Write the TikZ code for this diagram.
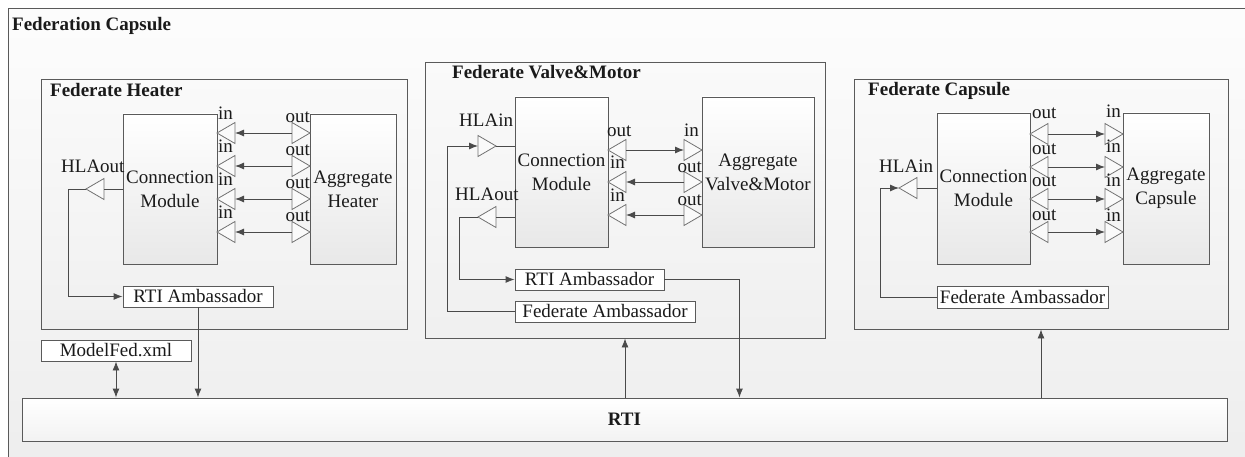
\documentclass[tikz,border=0pt]{standalone}
\usepackage{fontspec}
\setmainfont{LiberationSerif}[Extension=.ttf, UprightFont=*-Regular, BoldFont=*-Bold, ItalicFont=*-Italic, BoldItalicFont=*-BoldItalic]
\usetikzlibrary{arrows.meta,shadows}
\definecolor{edgecol}{HTML}{4A4A4A}
\definecolor{boxline}{HTML}{5A5A5A}
\definecolor{txt}{HTML}{1A1A1A}
\tikzset{
  txtstyle/.style={font=\fontsize{19}{24}\selectfont, text=txt},
  fedbox/.style={draw=boxline, line width=0.9pt, top color=black!2, bottom color=black!6, inner sep=0pt,
    drop shadow={shadow xshift=1pt, shadow yshift=-1pt, opacity=0.18}},
  modbox/.style={txtstyle, draw=boxline, line width=0.9pt, top color=white, bottom color=black!9,
    inner sep=1pt, align=center, minimum height=150pt,
    drop shadow={shadow xshift=1pt, shadow yshift=-1pt, opacity=0.18}},
  ambbox/.style={txtstyle, draw=boxline, line width=0.9pt, fill=white, inner sep=0pt, minimum height=21pt,
    drop shadow={shadow xshift=1pt, shadow yshift=-1pt, opacity=0.18}},
  rtibox/.style={draw=boxline, line width=0.9pt, top color=white, bottom color=black!5, inner sep=0pt,
    font=\fontsize{19}{24}\selectfont\bfseries, text=txt,
    drop shadow={shadow xshift=1pt, shadow yshift=-1pt, opacity=0.18}},
  portshape/.style={draw=black!55, line width=0.8pt, fill=black!2},
  conn/.style={draw=edgecol, line width=0.9pt},
  arr/.style={-{Latex[length=9pt,width=7pt]}},
  barr/.style={{Latex[length=9pt,width=7pt]}-{Latex[length=9pt,width=7pt]}},
  lbl/.style={txtstyle, inner sep=0pt},
  fedtitle/.style={font=\fontsize{19}{24}\selectfont\bfseries, text=txt, inner sep=0pt},
}
% port triangle: #1 name, #2 tip x, #3 y, #4 direction (1 = points right, -1 = points left)
\newcommand\porttri[4]{%
  \coordinate (#1-tip) at (#2,#3);
  \coordinate (#1-base) at ({#2-(#4)*18},#3);
  \draw[portshape] (#1-tip) -- ({#2-(#4)*18},{#3-10.5}) -- ({#2-(#4)*18},{#3+10.5}) -- cycle;
}
\begin{document}
\begin{tikzpicture}[x=1pt,y=-1pt]
\useasboundingbox (0,0) rectangle (1245,457);
\clip (0,0) rectangle (1245,457);
\fill[white] (0,0) rectangle (1245,457);
% Federation Capsule frame
\shade[top color=black!1, bottom color=black!7] (8,9) rectangle (1262,472);
\draw[boxline, line width=1pt] (8,9) rectangle (1262,472);
\node[fedtitle, anchor=base west] (fedcap) at (12,31) {Federation Capsule};

% ---------- Federate boxes ----------
\node[fedbox, minimum width=366pt, minimum height=250pt] (hfed) at (224,204) {};
\node[fedtitle, anchor=base west] (hfedt) at (50,97) {Federate Heater};
\node[fedbox, minimum width=400pt, minimum height=276pt] (vfed) at (625,200) {};
\node[fedtitle, anchor=base west] (vfedt) at (452,79) {Federate Valve\&Motor};
\node[fedbox, minimum width=374pt, minimum height=250pt] (cfed) at (1041,204) {};
\node[fedtitle, anchor=base west] (cfedt) at (868,96) {Federate Capsule};

% ---------- RTI + ModelFed ----------
\node[rtibox, minimum width=1205pt, minimum height=43pt] (rti) at (624.5,419.5) {RTI};
\node[ambbox, minimum width=150pt] (mf) at (116,350.5) {ModelFed.xml};

% ---------- Heater ----------
\node[modbox, minimum width=94pt] (hcm) at (170,189) {Connection\\Module};
\node[modbox, minimum width=86pt] (hagg) at (353,189) {Aggregate\\Heater};
\node[ambbox, minimum width=150pt] (hrti) at (198,296.5) {RTI Ambassador};
\foreach \yy [count=\i] in {133,166,199,232}{
  \porttri{hi\i}{217}{\yy}{-1}
  \porttri{ho\i}{310}{\yy}{1}
  \draw[conn,arr] (ho\i-base) -- (hi\i-base);
  \node[lbl, anchor=base west] (hil\i) at (218,\yy-13.5) {in};
  \node[lbl, anchor=base east] (hol\i) at (310,\yy-10) {out};
}
\porttri{hhout}{86}{189}{-1}
\node[lbl, anchor=base west] (hhoutl) at (61,173) {HLAout};
\draw[conn] (hcm.west |- hhout-base) -- (hhout-base);
\draw[conn,arr] (hhout-tip) -- ++(-18,0) |- (hrti.west);
\draw[conn,arr] (hrti.south) -- (hrti.south |- rti.north);
\draw[conn,barr] (mf.south) -- (mf.south |- rti.north);

% ---------- Valve & Motor ----------
\node[modbox, minimum width=93pt] (vcm) at (561.5,172) {Connection\\Module};
\node[modbox, minimum width=112pt] (vagg) at (758,172) {Aggregate\\Valve\&Motor};
\node[ambbox, minimum width=149pt] (vrti) at (589.5,279.5) {RTI Ambassador};
\node[ambbox, minimum width=180pt] (vfa) at (605,311.5) {Federate Ambassador};
\porttri{vl1}{608}{150}{-1}
\porttri{vr1}{702}{150}{1}
\draw[conn,arr] (vl1-base) -- (vr1-base);
\node[lbl, anchor=base west] (vll1) at (607,137) {out};
\node[lbl, anchor=base west] (vrl1) at (684,137) {in};
\foreach \yy [count=\i from 2] in {182,215}{
  \porttri{vl\i}{608}{\yy}{-1}
  \porttri{vr\i}{702}{\yy}{1}
  \draw[conn,arr] (vr\i-base) -- (vl\i-base);
  \node[lbl, anchor=base west] (vll\i) at (610,\yy-13) {in};
  \node[lbl, anchor=base east] (vrl\i) at (702,\yy-9.5) {out};
}
\porttri{vhin}{496}{146}{1}
\porttri{vhout}{478}{217}{-1}
\node[lbl, anchor=base west] (vhinl) at (459,127) {HLAin};
\node[lbl, anchor=base west] (vhoutl) at (455,201) {HLAout};
\draw[conn] (vhin-tip) -- (vhin-tip -| vcm.west);
\draw[conn] (vhout-base) -- (vhout-base -| vcm.west);
\draw[conn,arr] (vhout-tip) -- ++(-19,0) |- (vrti.west);
\draw[conn,arr] (vfa.west) -- ++(-67,0) |- (vhin-base);
\draw[conn,arr] (vrti.east) -- ++(75,0) coordinate (vturn) -- (vturn |- rti.north);
\draw[conn,arr] (vfed.south |- rti.north) -- (vfed.south);

% ---------- Capsule ----------
\node[modbox, minimum width=93pt, minimum height=151pt] (ccm) at (983.5,188.5) {Connection\\Module};
\node[modbox, minimum width=86pt, minimum height=151pt] (cagg) at (1166,188.5) {Aggregate\\Capsule};
\node[ambbox, minimum width=171pt, minimum height=22pt] (cfa) at (1022.5,297) {Federate Ambassador};
\foreach \yy/\lo/\li [count=\i] in {134/15/16, 167/12/14, 199/12/12, 232/11/10}{
  \porttri{cl\i}{1030}{\yy}{-1}
  \porttri{cr\i}{1123}{\yy}{1}
  \draw[conn,arr] (cl\i-base) -- (cr\i-base);
  \node[lbl, anchor=base west] (cll\i) at (1032,\yy-\lo) {out};
  \node[lbl, anchor=base west] (crl\i) at (1106,\yy-\li) {in};
}
\porttri{chin}{899}{188}{-1}
\node[lbl, anchor=base west] (chinl) at (879,173) {HLAin};
\draw[conn] (chin-base) -- (chin-base -| ccm.west);
\draw[conn,arr] (cfa.west) -- ++(-56,0) |- (chin-tip);
\draw[conn,arr] (cfed.south |- rti.north) -- (cfed.south);
\end{tikzpicture}
\end{document}
